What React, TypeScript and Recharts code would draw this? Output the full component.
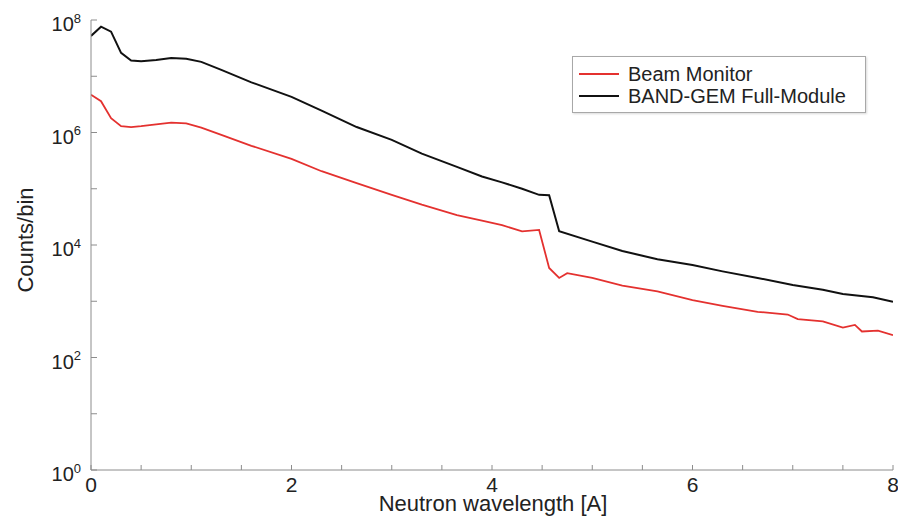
import React from 'react';
import { LineChart, Line, XAxis, YAxis, Legend } from 'recharts';

// ---- data ----
const seriesNames = ['Beam Monitor', 'BAND-GEM Full-Module'];
const seriesColors = ['#e4312f', '#111111'];

const beamX = [0, 0.1, 0.2, 0.3, 0.4, 0.5, 0.65, 0.8, 0.95, 1.1, 1.3, 1.6, 2.0, 2.3, 2.65, 3.0, 3.3, 3.65, 3.9, 4.1, 4.3, 4.47, 4.57, 4.67, 4.75, 5.0, 5.3, 5.65, 6.0, 6.3, 6.65, 6.95, 7.05, 7.3, 7.5, 7.62, 7.69, 7.85, 8.0];
const beamCounts = [4.7e6, 3.6e6, 1.8e6, 1.3e6, 1.25e6, 1.3e6, 1.4e6, 1.5e6, 1.45e6, 1.22e6, 9.1e5, 5.8e5, 3.4e5, 2.05e5, 1.26e5, 7.8e4, 5.2e4, 3.4e4, 2.7e4, 2.25e4, 1.75e4, 1.85e4, 3.9e3, 2.6e3, 3.15e3, 2.6e3, 1.9e3, 1.5e3, 1.05e3, 830, 650, 580, 480, 440, 340, 380, 290, 300, 250];

const gemX = [0, 0.1, 0.2, 0.3, 0.4, 0.5, 0.65, 0.8, 0.95, 1.1, 1.3, 1.6, 2.0, 2.3, 2.65, 3.0, 3.3, 3.65, 3.9, 4.1, 4.3, 4.47, 4.57, 4.67, 5.0, 5.3, 5.65, 6.0, 6.3, 6.65, 7.0, 7.3, 7.5, 7.8, 8.0];
const gemCounts = [5.2e7, 7.6e7, 6.2e7, 2.6e7, 1.9e7, 1.85e7, 1.95e7, 2.1e7, 2.05e7, 1.8e7, 1.3e7, 7.8e6, 4.3e6, 2.45e6, 1.25e6, 7.4e5, 4.2e5, 2.45e5, 1.65e5, 1.3e5, 1.0e5, 7.8e4, 7.7e4, 1.75e4, 1.15e4, 7.8e3, 5.6e3, 4.4e3, 3.4e3, 2.6e3, 1.95e3, 1.6e3, 1.35e3, 1.18e3, 980];

const xTicks = [0, 0.5, 1, 1.5, 2, 2.5, 3, 3.5, 4, 4.5, 5, 5.5, 6, 6.5, 7, 7.5, 8];
const xLabelTicks = [0, 2, 4, 6, 8];
const yTicks = [1, 10, 100, 1e3, 1e4, 1e5, 1e6, 1e7, 1e8];
const yLabelExps = [0, 2, 4, 6, 8];

const xTitle = 'Neutron wavelength [A]';
const yTitle = 'Counts/bin';

const beamData = beamX.map((x, i) => ({ x, y: beamCounts[i] }));
const gemData = gemX.map((x, i) => ({ x, y: gemCounts[i] }));

// ---- styling ----
const FONT = '"Liberation Sans", Arial, Helvetica, sans-serif';
const AXIS = '#8c8c8c';
const TEXT = '#222222';

const XTickBottom = (props: any) => {
  const { x, y, payload } = props;
  const v = payload.value;
  return (
    <g>
      <line x1={x} x2={x} y1={y} y2={y - 5} stroke={AXIS} strokeWidth={1} />
      {xLabelTicks.includes(v) && (
        <text x={x} y={y + 22} textAnchor="middle" fontSize={21} fill={TEXT} fontFamily={FONT}>
          {v}
        </text>
      )}
    </g>
  );
};

const XTickTop = (props: any) => {
  const { x, y } = props;
  return <line x1={x} x2={x} y1={y} y2={y + 5} stroke={AXIS} strokeWidth={1} />;
};

const YTickLeft = (props: any) => {
  const { x, y, payload } = props;
  const exp = Math.round(Math.log10(payload.value));
  return (
    <g>
      <line x1={x} x2={x + 6} y1={y} y2={y} stroke={AXIS} strokeWidth={1} />
      {yLabelExps.includes(exp) && (
        <text x={x - 10} y={y + 11} textAnchor="end" fontSize={20} fill={TEXT} fontFamily={FONT}>
          10
          <tspan dy={-8.5} fontSize={13}>{exp}</tspan>
        </text>
      )}
    </g>
  );
};

const YTickRight = (props: any) => {
  const { x, y } = props;
  return <line x1={x} x2={x - 6} y1={y} y2={y} stroke={AXIS} strokeWidth={1} />;
};

const YTitle = (props: any) => {
  const vb = props.viewBox || { x: 0, y: 20, width: 91, height: 450 };
  const cy = vb.y + vb.height / 2 - 5;
  const bx = 33;
  return (
    <text
      x={bx}
      y={cy}
      transform={`rotate(-90 ${bx} ${cy})`}
      textAnchor="middle"
      fontSize={22}
      fill={TEXT}
      fontFamily={FONT}
    >
      {yTitle}
    </text>
  );
};

const XTitle = (props: any) => {
  const vb = props.viewBox || { x: 91, y: 470, width: 802, height: 51 };
  const cx = vb.x + vb.width / 2 + 1;
  return (
    <text x={cx} y={511} textAnchor="middle" fontSize={22} fill={TEXT} fontFamily={FONT}>
      {xTitle}
    </text>
  );
};

const renderLegend = (props: any) => {
  const payload = [...(props.payload || [])].sort(
    (a: any, b: any) => seriesNames.indexOf(a.value) - seriesNames.indexOf(b.value)
  );
  return (
    <div
      style={{
        boxSizing: 'border-box',
        width: 294,
        height: 57,
        border: '1px solid #a8a8a8',
        background: '#fff',
        boxShadow: '1px 1px 2px rgba(0,0,0,0.15)',
        paddingTop: 6,
        paddingLeft: 6,
        fontFamily: FONT,
      }}
    >
      {payload.map((item: any) => (
        <div key={item.value} style={{ display: 'flex', alignItems: 'center', height: 22 }}>
          <span style={{ display: 'inline-block', width: 40, height: 0, borderTop: `2px solid ${item.color}` }} />
          <span style={{ marginLeft: 9, fontSize: 20, color: TEXT, lineHeight: '22px', whiteSpace: 'nowrap' }}>
            {item.value}
          </span>
        </div>
      ))}
    </div>
  );
};

export default function App() {
  return (
    <div style={{ position: 'absolute', left: 0, top: 0, width: 898, height: 521, background: '#fff' }}>
      <LineChart width={898} height={521} margin={{ top: 20, right: 5, bottom: 0, left: 0 }}>
        <XAxis
          xAxisId="b"
          dataKey="x"
          type="number"
          domain={[0, 8]}
          allowDataOverflow
          ticks={xTicks}
          interval={0}
          height={51}
          tickSize={0}
          tickMargin={0}
          tickLine={false}
          axisLine={{ stroke: AXIS, strokeWidth: 1 }}
          tick={<XTickBottom />}
          label={<XTitle />}
        />
        <XAxis
          xAxisId="t"
          orientation="top"
          dataKey="x"
          type="number"
          domain={[0, 8]}
          allowDataOverflow
          ticks={xTicks}
          interval={0}
          height={0}
          tickSize={0}
          tickMargin={0}
          tickLine={false}
          axisLine={{ stroke: AXIS, strokeWidth: 1 }}
          tick={<XTickTop />}
        />
        <YAxis
          yAxisId="l"
          type="number"
          scale="log"
          domain={[1, 1e8]}
          allowDataOverflow
          ticks={yTicks}
          interval={0}
          width={91}
          tickSize={0}
          tickMargin={0}
          tickLine={false}
          axisLine={{ stroke: AXIS, strokeWidth: 1 }}
          tick={<YTickLeft />}
          label={<YTitle />}
        />
        <YAxis
          yAxisId="r"
          orientation="right"
          type="number"
          scale="log"
          domain={[1, 1e8]}
          allowDataOverflow
          ticks={yTicks}
          interval={0}
          width={0}
          tickSize={0}
          tickMargin={0}
          tickLine={false}
          axisLine={{ stroke: AXIS, strokeWidth: 1 }}
          tick={<YTickRight />}
        />
        <Legend
          layout="vertical"
          align="center"
          verticalAlign="middle"
          content={renderLegend}
          wrapperStyle={{ left: 572, top: 56, width: 294, height: 57 }}
        />
        <Line
          xAxisId="b"
          yAxisId="l"
          data={beamData}
          dataKey="y"
          name={seriesNames[0]}
          type="linear"
          stroke={seriesColors[0]}
          strokeWidth={1.8}
          dot={false}
          activeDot={false}
          isAnimationActive={false}
        />
        <Line
          xAxisId="b"
          yAxisId="l"
          data={gemData}
          dataKey="y"
          name={seriesNames[1]}
          type="linear"
          stroke={seriesColors[1]}
          strokeWidth={2}
          dot={false}
          activeDot={false}
          isAnimationActive={false}
        />
      </LineChart>
    </div>
  );
}
